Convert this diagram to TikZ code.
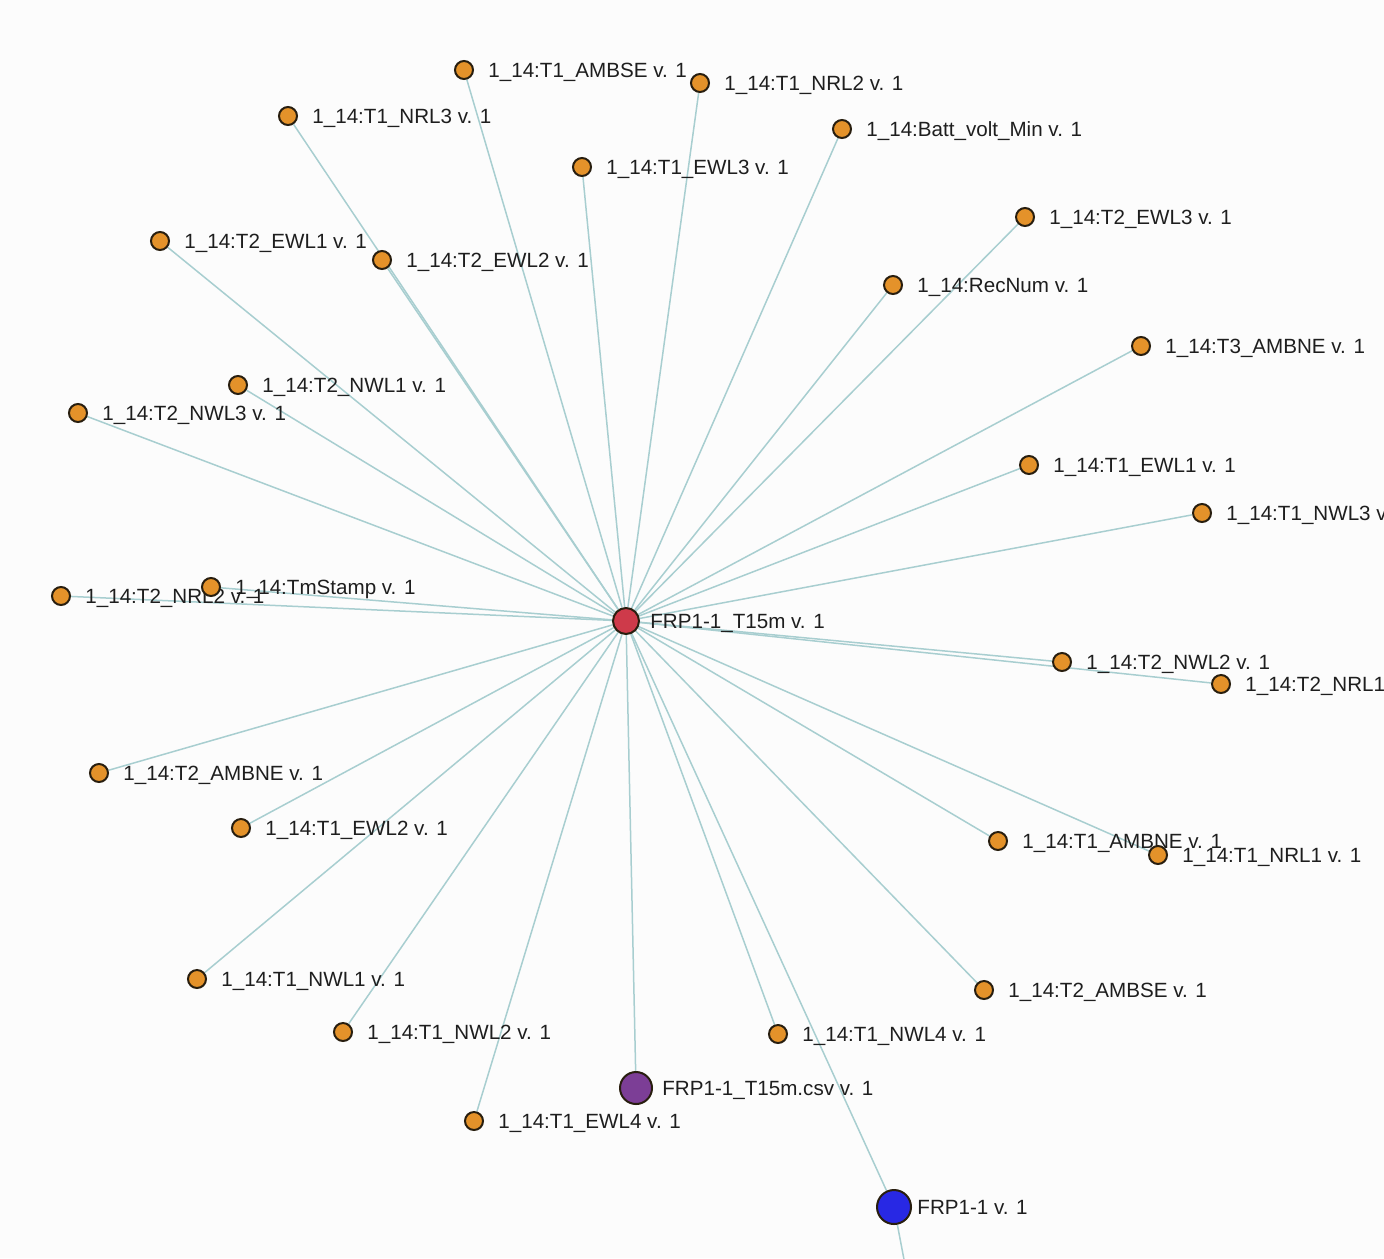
\documentclass[tikz,border=0pt]{standalone}
\usepackage{fontspec}
\setmainfont{Liberation Sans}
\usetikzlibrary{backgrounds}

\definecolor{linkcol}{RGB}{168,206,208}
\definecolor{fieldfill}{RGB}{228,146,42}
\definecolor{rimcol}{RGB}{40,30,15}
\definecolor{tablefill}{RGB}{206,58,74}
\definecolor{filefill}{RGB}{124,62,150}
\definecolor{studyfill}{RGB}{40,40,228}
\definecolor{txtcol}{RGB}{30,30,30}

\begin{document}
\begin{tikzpicture}[x=0.5pt, y=-0.5pt,
    lbl/.style ={inner sep=0pt, text height=7.4pt, text depth=0pt, text=txtcol,
                 font=\fontsize{10.3}{12}\selectfont},
    flbl/.style={lbl, xshift=7pt},
    field/.style ={circle, draw=rimcol, fill=fieldfill, line width=1pt, inner sep=0pt,
                   minimum size=9pt},
    table/.style ={circle, draw=rimcol, fill=tablefill, line width=1pt, inner sep=0pt,
                   minimum size=13pt},
    file/.style  ={circle, draw=rimcol, fill=filefill, line width=1pt, inner sep=0pt,
                   minimum size=16pt},
    study/.style ={circle, draw=rimcol, fill=studyfill, line width=1pt, inner sep=0pt,
                   minimum size=17pt},
    link/.style  ={draw=linkcol, line width=0.75pt}]
   \useasboundingbox (0,0) rectangle (1384,1258);
   \clip (0,0) rectangle (1384,1258);

   % the table and its file
   \node[table, label={[lbl, xshift=5pt]right:FRP1-1\_T15m v. 1}] (tbl) at (626,621) {};
   \node[file, label={[lbl, xshift=4.5pt]right:FRP1-1\_T15m.csv v. 1}] (csv) at (636,1088) {};
   \node[study, label={[lbl, xshift=2.5pt]right:FRP1-1 v. 1}] (frp) at (894,1207) {};
   \coordinate (below) at (906,1270);

   % fields
   \node[field, label={[flbl]right:1\_14:T1\_AMBSE v. 1}] (t1ambse) at (464,70) {};
   \node[field, label={[flbl]right:1\_14:T1\_NRL2 v. 1}] (t1nrl2) at (700,83) {};
   \node[field, label={[flbl]right:1\_14:T1\_NRL3 v. 1}] (t1nrl3) at (288,116) {};
   \node[field, label={[flbl]right:1\_14:Batt\_volt\_Min v. 1}] (batt) at (842,129) {};
   \node[field, label={[flbl]right:1\_14:T1\_EWL3 v. 1}] (t1ewl3) at (582,167) {};
   \node[field, label={[flbl]right:1\_14:T2\_EWL3 v. 1}] (t2ewl3) at (1025,217) {};
   \node[field, label={[flbl]right:1\_14:T2\_EWL1 v. 1}] (t2ewl1) at (160,241) {};
   \node[field, label={[flbl]right:1\_14:T2\_EWL2 v. 1}] (t2ewl2) at (382,260) {};
   \node[field, label={[flbl]right:1\_14:RecNum v. 1}] (recnum) at (893,285) {};
   \node[field, label={[flbl]right:1\_14:T3\_AMBNE v. 1}] (t3ambne) at (1141,346) {};
   \node[field, label={[flbl]right:1\_14:T2\_NWL1 v. 1}] (t2nwl1) at (238,385) {};
   \node[field, label={[flbl]right:1\_14:T2\_NWL3 v. 1}] (t2nwl3) at (78,413) {};
   \node[field, label={[flbl]right:1\_14:T1\_EWL1 v. 1}] (t1ewl1) at (1029,465) {};
   \node[field, label={[flbl]right:1\_14:T1\_NWL3 v. 1}] (t1nwl3) at (1202,513) {};
   \node[field, label={[flbl]right:1\_14:T2\_NRL2 v. 1}] (t2nrl2) at (61,596) {};
   \node[field, label={[flbl]right:1\_14:TmStamp v. 1}] (tmstamp) at (211,587) {};
   \node[field, label={[flbl]right:1\_14:T2\_NWL2 v. 1}] (t2nwl2) at (1062,662) {};
   \node[field, label={[flbl]right:1\_14:T2\_NRL1 v. 1}] (t2nrl1) at (1221,684) {};
   \node[field, label={[flbl]right:1\_14:T2\_AMBNE v. 1}] (t2ambne) at (99,773) {};
   \node[field, label={[flbl]right:1\_14:T1\_EWL2 v. 1}] (t1ewl2) at (241,828) {};
   \node[field, label={[flbl]right:1\_14:T1\_AMBNE v. 1}] (t1ambne) at (998,841) {};
   \node[field, label={[flbl]right:1\_14:T1\_NRL1 v. 1}] (t1nrl1) at (1158,855) {};
   \node[field, label={[flbl]right:1\_14:T1\_NWL1 v. 1}] (t1nwl1) at (197,979) {};
   \node[field, label={[flbl]right:1\_14:T2\_AMBSE v. 1}] (t2ambse) at (984,990) {};
   \node[field, label={[flbl]right:1\_14:T1\_NWL2 v. 1}] (t1nwl2) at (343,1032) {};
   \node[field, label={[flbl]right:1\_14:T1\_NWL4 v. 1}] (t1nwl4) at (778,1034) {};
   \node[field, label={[flbl]right:1\_14:T1\_EWL4 v. 1}] (t1ewl4) at (474,1121) {};

   \begin{pgfonlayer}{background}
   \fill[white!99!black] (0,0) rectangle (1384,1258);
   \foreach \f in {t1ambse,t1nrl2,t1nrl3,batt,t1ewl3,t2ewl3,t2ewl1,t2ewl2,recnum,
                   t3ambne,t2nwl1,t2nwl3,t1ewl1,t1nwl3,t2nrl2,tmstamp,t2nwl2,t2nrl1,
                   t2ambne,t1ewl2,t1ambne,t1nrl1,t1nwl1,t2ambse,t1nwl2,t1nwl4,t1ewl4,csv,frp}
      \draw[link] (tbl) -- (\f);
   \draw[link] (frp) -- (below);
   \end{pgfonlayer}
 \end{tikzpicture}
\end{document}
